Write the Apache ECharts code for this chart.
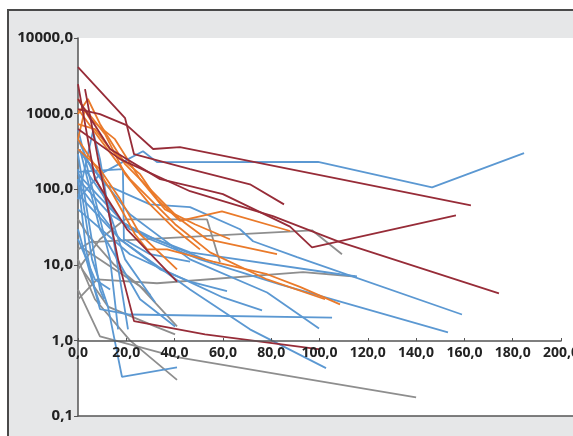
<!DOCTYPE html>
<html><head><meta charset="utf-8">
<script src="https://cdn.jsdelivr.net/npm/echarts@6/dist/echarts.min.js"></script>
<style>
html,body{margin:0;padding:0;background:#fff;overflow:hidden;width:573px;height:436px;position:relative}
#frame{position:absolute;left:7px;top:9px;width:580px;height:440px;background:#e6e7e8;border-top:2px solid #4a4a4a;border-left:2px solid #4a4a4a}
#c{position:absolute;left:0;top:0;width:573px;height:436px}
</style>
</head><body><div id="frame"></div><div id="c"></div><script>
// x = time, y = value (log scale)
var xTicks = [0, 20, 40, 60, 80, 100, 120, 140, 160, 180, 200];
var yTicks = [0.1, 1, 10, 100, 1000, 10000];

var redLines = [
  [[0,4130],[19.5,870],[23.2,290],[46.4,184],[71.2,116],[85.3,63]],
  [[0,1150],[9.1,985],[20.3,700],[31.1,340],[42.2,360],[108.5,136],[162.7,61]],
  [[0,1560],[13.3,340],[34,136],[46.4,110],[60,86],[87.8,32],[96.9,17],[156.5,45]],
  [[0,624],[17.4,250],[46.4,94],[80.7,44],[108.5,20],[174.3,4.2]],
  [[2.9,2110],[9.1,184],[16.6,11.8],[23.2,1.8],[52.6,1.2],[100.2,0.76]],
  [[0,2460],[7,136],[20.3,29.5],[41,6]]
];
var orangeLines = [
  [[0,985],[4.1,1560],[9.1,730],[19.5,214],[29.8,100],[42.2,40],[53.4,21.8],[82.4,13.8]],
  [[0,726],[7,624],[13.3,339],[25.7,158],[32.7,74],[42.2,38],[59.6,51],[87.8,28]],
  [[0,339],[9.1,184],[17.4,74],[25.7,25.4],[41,8.7]],
  [[0,459],[13.3,100],[23.6,25.4],[28.6,16],[36.9,16],[55.9,11],[78.3,7.5],[91.9,5.1],[108.5,3.0]],
  [[0,1150],[9.1,459],[21.5,136],[40.2,34.4],[54.7,14.6],[78.3,6.4],[102.3,3.5]],
  [[0,1560],[5,845],[15.3,459],[25.7,136],[36,54],[48.4,34.4],[62.9,21.8]],
  [[0,459],[2.9,1150],[11.2,535],[19.5,158],[29.8,63],[40.2,29.5],[50.5,16]]
];
var blueLines = [
  [[0,74],[9.1,158],[18.6,230],[26.9,318],[32.7,228],[99.4,230],[146.6,106],[184.7,300]],
  [[0,74],[6.2,587],[9.1,250],[13.3,40],[17.4,6.4],[20.7,1.4]],
  [[0,184],[5.8,11.8],[12.4,2.8],[18.2,0.33],[41,0.44]],
  [[0,339],[11.2,116],[29.8,63],[46.4,58],[67.1,29.5],[72.5,20.5],[90.7,12.6],[159,2.2]],
  [[0,136],[13.3,46.6],[29.8,21.8],[50.5,11.8],[83.6,5.5],[153.2,1.28]],
  [[0,29.5],[9.1,2.6],[21.5,2.2],[105.2,2.0]],
  [[0,339],[21.5,46.6],[46.4,11.8],[78.3,4.3],[99.8,1.44]],
  [[0,86],[17.4,21.8],[46.4,4.7],[71.2,1.4],[102.7,0.43]],
  [[0,158],[21.5,29.5],[46.4,14.6],[108.5,7.5],[115.5,7.0]],
  [[0,54],[21.5,13.8],[46.4,5.9],[60,3.7],[76.2,2.5]],
  [[0,116],[17.4,21.8],[34,8.7],[46.4,6.0],[61.7,4.5]],
  [[0,459],[11.2,74],[19.5,11.8],[31.9,3.2]],
  [[0,291],[5,29.5],[9.1,4.7],[10.8,3.5]],
  [[0,136],[3.3,16],[7,4.7],[9.1,3.0]],
  [[2.9,184],[18.2,36.5],[31.9,21.8],[52.6,11.8]],
  [[0,170],[18.6,184],[19,21.8],[29.8,13.8],[46.4,11]],
  [[0,21.8],[7,6.4],[13.3,4.7]],
  [[0,624],[5,136],[13.3,11.8],[16.6,1.4]],
  [[0.8,339],[9.1,29.5],[25.7,3.5],[40.2,1.53]]
];
var grayLines = [
  [[0,4.7],[9.1,1.13],[41,0.6],[91.9,0.32],[140,0.176]],
  [[0,11.8],[7,3.5],[21.5,1.0],[41,0.30]],
  [[0,8.7],[9.1,21.8],[19.5,40],[53.4,40],[58.8,10.8]],
  [[0,16],[5,19.9],[96.9,28.6],[109.3,13.8]],
  [[0,3.5],[7.9,6.4],[32.7,5.7],[93.2,8.0],[114.7,7.0]],
  [[1.7,8.7],[12.4,2.8],[31.9,1.53],[40.2,1.2]],
  [[0.8,17.6],[25.7,5.2],[41,1.53]],
  [[0,40],[4,25],[15,10],[30,4]]
];

var colors = {gray:'#8e8e8e', blue:'#5b98d2', orange:'#ea7a2a', red:'#972c38'};

function fmt(v){ return Number(v).toFixed(1).replace('.', ','); }

var series = [];
function addGroup(lines, color){
  lines.forEach(function(d){
    series.push({type:'line', xAxisIndex:0, yAxisIndex:0, data:d, symbol:'none',
      silent:true, lineStyle:{color:color, width:1.8}, z:3});
  });
}
addGroup(grayLines, colors.gray);
addGroup(blueLines, colors.blue);
addGroup(orangeLines, colors.orange);
addGroup(redLines, colors.red);

// plot area runs to the right edge (573 px); the visible x axis ends at 200 (561 px)
var PLOT_LEFT = 78, PLOT_RIGHT_GAP = 12, W = 573;
var xMaxFull = 200 * (W - PLOT_LEFT) / (W - PLOT_LEFT - PLOT_RIGHT_GAP);

var FONT = "'Open Sans', 'Noto Sans', sans-serif";
var chart = echarts.init(document.getElementById('c'), null, {renderer:'canvas', width:573, height:436});
chart.setOption({
  animation:false,
  backgroundColor:'transparent',
  grid:[
    {left:PLOT_LEFT, right:0, top:38, bottom:20, containLabel:false, outerBoundsMode:'none',
     show:true, backgroundColor:'#ffffff', borderWidth:0},
    {left:PLOT_LEFT, right:PLOT_RIGHT_GAP, top:300, height:41, containLabel:false, outerBoundsMode:'none'}
  ],
  xAxis:[
    {gridIndex:0, type:'value', min:0, max:xMaxFull, position:'bottom',
     axisLine:{show:true, lineStyle:{color:'#555', width:1.5}},
     axisTick:{show:false}, axisLabel:{show:false}, splitLine:{show:false}},
    {gridIndex:1, type:'value', min:0, max:200, interval:20, position:'bottom',
     axisLine:{show:true, lineStyle:{color:'#555', width:1.5}},
     axisTick:{show:true, inside:true, length:3, lineStyle:{color:'#555'}},
     splitLine:{show:false},
     axisLabel:{formatter:fmt, fontSize:14, fontWeight:'bold', color:'#222', fontFamily:FONT, margin:5},
     z:6}
  ],
  yAxis:[
    {gridIndex:0, type:'log', logBase:10, min:0.1, max:10000,
     axisLine:{show:true, lineStyle:{color:'#555', width:1.5}},
     axisTick:{show:true, inside:false, length:4, lineStyle:{color:'#555'}},
     minorTick:{show:false}, splitLine:{show:false},
     axisLabel:{formatter:fmt, fontSize:15, fontWeight:'bold', color:'#222', fontFamily:FONT, margin:5}},
    {gridIndex:1, type:'value', show:false, min:0, max:1}
  ],
  series:series
});
</script></body></html>
